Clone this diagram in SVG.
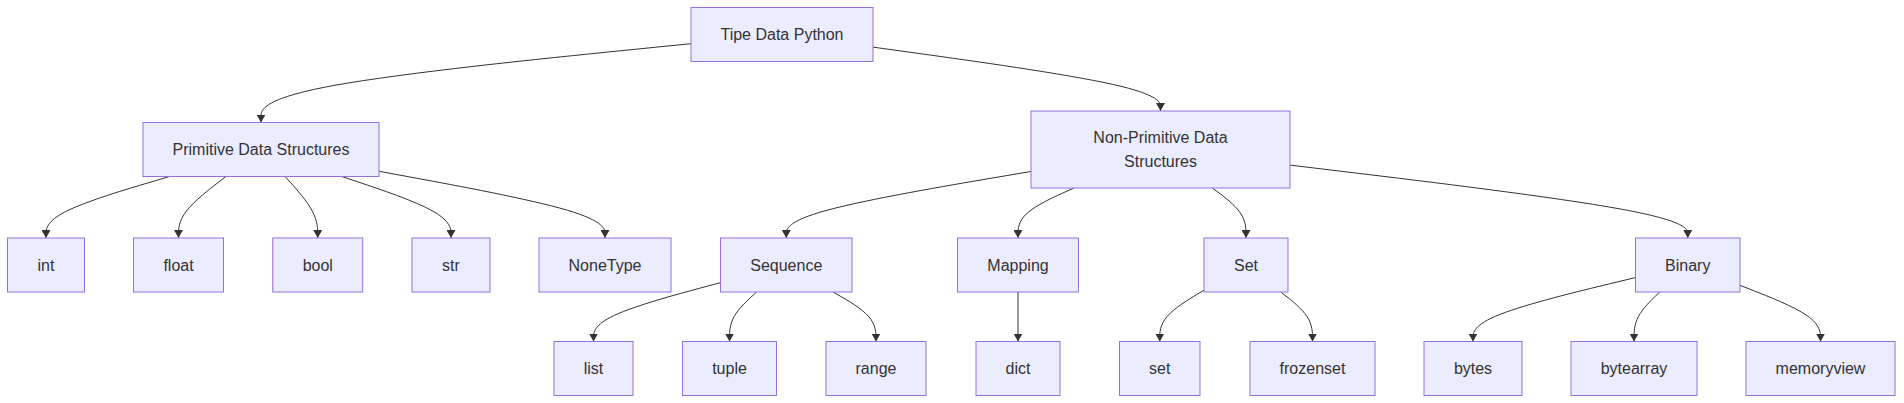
<svg xmlns="http://www.w3.org/2000/svg" width="1904" height="403" viewBox="0 0 1904 403">
<style>
.node rect{fill:#ECECFF;stroke:#9370DB;stroke-width:1}
.node text{font-family:"Liberation Sans",Arial,sans-serif;font-size:16px;fill:#333333;text-anchor:middle}
.edge{fill:none;stroke:#333333;stroke-width:1;marker-end:url(#arrow)}
</style>
<defs>
<marker id="arrow" viewBox="0 0 8 9" refX="8" refY="4.5" markerWidth="8" markerHeight="9" markerUnits="userSpaceOnUse" orient="auto">
<path d="M0,0 L8,4.5 L0,9 z" fill="#333333"/>
</marker>
</defs>
<rect width="1904" height="403" fill="#ffffff"/>
<g id="connectors">
<path class="edge" d="M691,43.67 L619.33,50.89 C547.67,58.11 404.33,72.56 332.67,85.7 C261,98.83 261,110.67 261,116.58 L261,122.5"/>
<path class="edge" d="M873,47.12 L920.92,53.77 C968.83,60.41 1064.67,73.71 1112.58,84.35 C1160.5,95 1160.5,103 1160.5,107 L1160.5,111"/>
<path class="edge" d="M169.58,176.5 L148.98,182.58 C128.39,188.67 87.19,200.83 66.6,211.08 C46,221.33 46,229.67 46,233.83 L46,238"/>
<path class="edge" d="M225.92,176.5 L218.02,182.58 C210.11,188.67 194.31,200.83 186.4,211.08 C178.5,221.33 178.5,229.67 178.5,233.83 L178.5,238"/>
<path class="edge" d="M285.13,176.5 L290.57,182.58 C296,188.67 306.88,200.83 312.31,211.08 C317.75,221.33 317.75,229.67 317.75,233.83 L317.75,238"/>
<path class="edge" d="M341.79,176.5 L359.99,182.58 C378.19,188.67 414.6,200.83 432.8,211.08 C451,221.33 451,229.67 451,233.83 L451,238"/>
<path class="edge" d="M379,171.28 L416.67,178.23 C454.33,185.19 529.67,199.09 567.33,210.21 C605,221.33 605,229.67 605,233.83 L605,238"/>
<path class="edge" d="M1031,171.47 L990.21,178.39 C949.42,185.31 867.83,199.16 827.04,210.25 C786.25,221.33 786.25,229.67 786.25,233.83 L786.25,238"/>
<path class="edge" d="M1074.1,188 L1064.75,192.17 C1055.4,196.33 1036.7,204.67 1027.35,213 C1018,221.33 1018,229.67 1018,233.83 L1018,238"/>
<path class="edge" d="M1212.34,188 L1217.95,192.17 C1223.56,196.33 1234.78,204.67 1240.39,213 C1246,221.33 1246,229.67 1246,233.83 L1246,238"/>
<path class="edge" d="M1290,165.1 L1356.29,173.08 C1422.58,181.07 1555.17,197.03 1621.46,209.18 C1687.75,221.33 1687.75,229.67 1687.75,233.83 L1687.75,238"/>
<path class="edge" d="M720.5,282.65 L699.33,288.33 C678.17,294.02 635.83,305.38 614.67,315.19 C593.5,325 593.5,333.25 593.5,337.38 L593.5,341.5"/>
<path class="edge" d="M756.64,292 L752.12,296.13 C747.59,300.25 738.55,308.5 734.02,316.75 C729.5,325 729.5,333.25 729.5,337.38 L729.5,341.5"/>
<path class="edge" d="M833.08,292 L840.23,296.13 C847.39,300.25 861.69,308.5 868.85,316.75 C876,325 876,333.25 876,337.38 L876,341.5"/>
<path class="edge" d="M1018,292 L1018,341.5"/>
<path class="edge" d="M1204,290.2 L1196.63,294.63 C1189.25,299.05 1174.5,307.9 1167.13,316.45 C1159.75,325 1159.75,333.25 1159.75,337.38 L1159.75,341.5"/>
<path class="edge" d="M1280.69,292 L1285.99,296.13 C1291.29,300.25 1301.9,308.5 1307.2,316.75 C1312.5,325 1312.5,333.25 1312.5,337.38 L1312.5,341.5"/>
<path class="edge" d="M1635.5,277.59 L1608.42,284.12 C1581.33,290.64 1527.17,303.7 1500.08,314.35 C1473,325 1473,333.25 1473,337.38 L1473,341.5"/>
<path class="edge" d="M1659.71,292 L1655.43,296.13 C1651.14,300.25 1642.57,308.5 1638.29,316.75 C1634,325 1634,333.25 1634,337.38 L1634,341.5"/>
<path class="edge" d="M1740,285.37 L1753.42,290.6 C1766.83,295.83 1793.67,306.29 1807.08,315.65 C1820.5,325 1820.5,333.25 1820.5,337.38 L1820.5,341.5"/>
</g>
<g id="n-tipe" class="node"><rect x="691" y="7.5" width="182" height="54"/><text x="782" y="40">Tipe Data Python</text></g>
<g id="n-primitive" class="node"><rect x="143" y="122.5" width="236" height="54"/><text x="261" y="155">Primitive Data Structures</text></g>
<g id="n-nonprimitive" class="node"><rect x="1031" y="111" width="259" height="77"/><text x="1160.5" y="143">Non-Primitive Data</text><text x="1160.5" y="167">Structures</text></g>
<g id="n-int" class="node"><rect x="7.5" y="238" width="77" height="54"/><text x="46" y="270.5">int</text></g>
<g id="n-float" class="node"><rect x="133.5" y="238" width="90" height="54"/><text x="178.5" y="270.5">float</text></g>
<g id="n-bool" class="node"><rect x="272.75" y="238" width="90" height="54"/><text x="317.75" y="270.5">bool</text></g>
<g id="n-str" class="node"><rect x="412" y="238" width="78" height="54"/><text x="451" y="270.5">str</text></g>
<g id="n-nonetype" class="node"><rect x="539" y="238" width="132" height="54"/><text x="605" y="270.5">NoneType</text></g>
<g id="n-sequence" class="node"><rect x="720.5" y="238" width="131.5" height="54"/><text x="786.25" y="270.5">Sequence</text></g>
<g id="n-mapping" class="node"><rect x="957.5" y="238" width="121" height="54"/><text x="1018" y="270.5">Mapping</text></g>
<g id="n-set-group" class="node"><rect x="1204" y="238" width="84" height="54"/><text x="1246" y="270.5">Set</text></g>
<g id="n-binary" class="node"><rect x="1635.5" y="238" width="104.5" height="54"/><text x="1687.75" y="270.5">Binary</text></g>
<g id="n-list" class="node"><rect x="554" y="341.5" width="79" height="54"/><text x="593.5" y="374">list</text></g>
<g id="n-tuple" class="node"><rect x="682.5" y="341.5" width="94" height="54"/><text x="729.5" y="374">tuple</text></g>
<g id="n-range" class="node"><rect x="826" y="341.5" width="100" height="54"/><text x="876" y="374">range</text></g>
<g id="n-dict" class="node"><rect x="976" y="341.5" width="84" height="54"/><text x="1018" y="374">dict</text></g>
<g id="n-set" class="node"><rect x="1119.5" y="341.5" width="80.5" height="54"/><text x="1159.75" y="374">set</text></g>
<g id="n-frozenset" class="node"><rect x="1250" y="341.5" width="125" height="54"/><text x="1312.5" y="374">frozenset</text></g>
<g id="n-bytes" class="node"><rect x="1424" y="341.5" width="98" height="54"/><text x="1473" y="374">bytes</text></g>
<g id="n-bytearray" class="node"><rect x="1571" y="341.5" width="126" height="54"/><text x="1634" y="374">bytearray</text></g>
<g id="n-memoryview" class="node"><rect x="1746" y="341.5" width="149" height="54"/><text x="1820.5" y="374">memoryview</text></g>
</svg>
